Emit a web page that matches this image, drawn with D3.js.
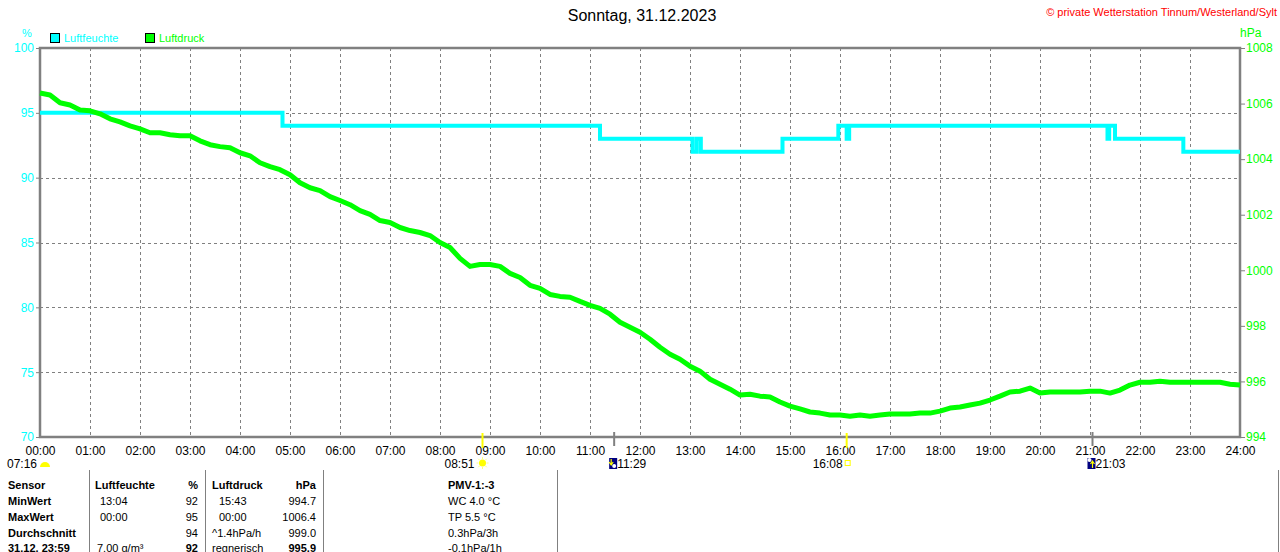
<!DOCTYPE html>
<html>
<head>
<meta charset="utf-8">
<script src="https://cdn.jsdelivr.net/npm/d3@7/dist/d3.min.js"></script>
<style>
  html, body { margin: 0; padding: 0; background: #fff; }
  svg { display: block; }
  text { font-family: "Liberation Sans", Arial, sans-serif; }
</style>
</head>
<body>
<svg id="chart" width="1280" height="552"></svg>
<script>
// ---------------- DATA ----------------
const title = "Sonntag, 31.12.2023";
const copyright = "© private Wetterstation Tinnum/Westerland/Sylt";
const seriesNames = ["Luftfeuchte", "Luftdruck"];
const seriesColors = ["#00FFFF", "#00FF00"];

const xTickLabels = ["00:00","01:00","02:00","03:00","04:00","05:00","06:00","07:00","08:00","09:00","10:00","11:00","12:00",
                     "13:00","14:00","15:00","16:00","17:00","18:00","19:00","20:00","21:00","22:00","23:00","24:00"];
const humTicks = [70, 75, 80, 85, 90, 95, 100];
const presTicks = [994, 996, 998, 1000, 1002, 1004, 1006, 1008];

// Luftfeuchte (%) – step changes (time, value)
const humTimes  = ["00:00","04:51","11:12","13:03","13:08","13:13","14:51","15:58","16:08","16:11","21:21","21:23","21:30","22:52","24:00"];
const humValues = [95, 94, 93, 92, 93, 92, 93, 94, 93, 94, 93, 94, 93, 92, 92];

// Luftdruck (hPa) – one reading every 12 minutes from 00:00 to 24:00
const presStepMin = 12;
const presValues = [
  1006.38,1006.31,1006.03,1005.95,1005.77,1005.74,1005.63,1005.45,1005.34,1005.20,
  1005.09,1004.95,1004.95,1004.88,1004.84,1004.84,1004.66,1004.52,1004.45,1004.41,
  1004.23,1004.12,1003.87,1003.73,1003.62,1003.44,1003.15,1002.97,1002.87,1002.65,
  1002.51,1002.36,1002.15,1002.01,1001.79,1001.72,1001.54,1001.43,1001.36,1001.25,
  1001.00,1000.82,1000.43,1000.14,1000.21,1000.21,1000.14,999.89,999.74,999.46,
  999.35,999.13,999.06,999.03,998.88,998.74,998.63,998.42,998.13,997.95,
  997.77,997.52,997.23,996.98,996.80,996.55,996.37,996.08,995.90,995.72,
  995.51,995.54,995.47,995.44,995.26,995.11,995.01,994.90,994.86,994.79,
  994.79,994.75,994.79,994.75,994.79,994.83,994.83,994.83,994.86,994.86,
  994.93,995.04,995.08,995.15,995.22,995.33,995.47,995.62,995.65,995.76,
  995.58,995.62,995.62,995.62,995.62,995.65,995.65,995.58,995.69,995.87,
  995.97,995.97,996.01,995.97,995.97,995.97,995.97,995.97,995.97,995.90,
  995.87
];

// Astronomical markers
const dawnLabel = "07:16";
const sunMarkers  = [{t:"08:51", kind:"sunrise"}, {t:"16:08", kind:"sunset"}];
const moonMarkers = [{t:"11:29", kind:"moonset"}, {t:"21:03", kind:"moonrise"}];

// Summary table
const tableHeader = ["Sensor", "Luftfeuchte", "%", "Luftdruck", "hPa", "PMV-1:-3"];
const tableRowLabels = ["MinWert", "MaxWert", "Durchschnitt", "31.12. 23:59"];
const humInfo  = ["13:04", "00:00", "", "7.00 g/m³"];
const humVals  = ["92", "95", "94", "92"];
const presInfo = ["15:43", "00:00", "^1.4hPa/h", "regnerisch"];
const presVals = ["994.7", "1006.4", "999.0", "995.9"];
const pmvInfo  = ["WC 4.0 °C", "TP 5.5 °C", "0.3hPa/3h", "-0.1hPa/1h"];

// ---------------- DRAW ----------------
const svg = d3.select("#chart");
const L = 40, R = 1240, T = 48, B = 437;
const gray = "#808080";
const toH = s => { const [h, m] = s.split(":").map(Number); return h + m / 60; };

const x = d3.scaleLinear().domain([0, 24]).range([L, R]);
const yH = d3.scaleLinear().domain([70, 100]).range([B, T]);
const yP = d3.scaleLinear().domain([994, 1008]).range([B, T]);

svg.append("rect").attr("width", 1280).attr("height", 552).attr("fill", "#fff");

// Grid
const grid = svg.append("g").attr("stroke", gray).attr("stroke-width", 1).attr("stroke-dasharray", "3,3");
grid.selectAll("line.v").data(d3.range(1, 24)).join("line")
  .attr("x1", d => Math.round(x(d)) + 0.5).attr("x2", d => Math.round(x(d)) + 0.5)
  .attr("y1", T).attr("y2", B);
grid.selectAll("line.h").data(humTicks.slice(1, -1)).join("line")
  .attr("x1", L).attr("x2", R)
  .attr("y1", d => Math.round(yH(d)) + 0.5).attr("y2", d => Math.round(yH(d)) + 0.5);

// Left axis
const axL = svg.append("g").attr("transform", `translate(${L},0)`)
  .call(d3.axisLeft(yH).tickValues(humTicks).tickFormat(d3.format("d")).tickSize(4).tickPadding(2).tickSizeOuter(0));
axL.select(".domain").remove();
axL.selectAll("line").attr("stroke", gray).attr("stroke-width", 1);
axL.selectAll("text").attr("fill", seriesColors[0]).attr("font-size", 12).attr("font-family", "Liberation Sans, Arial, sans-serif");

// Right axis
const axR = svg.append("g").attr("transform", `translate(${R},0)`)
  .call(d3.axisRight(yP).tickValues(presTicks).tickFormat(d3.format("d")).tickSize(5).tickPadding(1).tickSizeOuter(0));
axR.select(".domain").remove();
axR.selectAll("line").attr("stroke", gray).attr("stroke-width", 1);
axR.selectAll("text").attr("fill", seriesColors[1]).attr("font-size", 12).attr("font-family", "Liberation Sans, Arial, sans-serif");

// Bottom axis labels
const axB = svg.append("g").attr("transform", `translate(0,${B})`)
  .call(d3.axisBottom(x).tickValues(d3.range(0, 25)).tickFormat((d, i) => xTickLabels[i]).tickSize(0).tickPadding(9));
axB.select(".domain").remove();
axB.selectAll("text").attr("fill", "#000").attr("font-size", 12).attr("font-family", "Liberation Sans, Arial, sans-serif");

// Frame
svg.append("path")
  .attr("d", `M${L},${B} L${L},${T} L${R},${T} L${R},${B} Z`)
  .attr("fill", "none").attr("stroke", gray).attr("stroke-width", 2.5);

// Unit labels
svg.append("text").attr("x", 27).attr("y", 37).attr("text-anchor", "middle")
  .attr("fill", seriesColors[0]).attr("font-size", 11).text("%");
svg.append("text").attr("x", 1240).attr("y", 37)
  .attr("fill", seriesColors[1]).attr("font-size", 12).text("hPa");

// Title & copyright
svg.append("text").attr("x", 642).attr("y", 21).attr("text-anchor", "middle")
  .attr("fill", "#000").attr("font-size", 16).text(title);
svg.append("text").attr("x", 1277).attr("y", 16).attr("text-anchor", "end")
  .attr("fill", "#FF0000").attr("font-size", 11).text(copyright);

// Legend
const legX = [50, 145];
seriesNames.forEach((n, i) => {
  svg.append("rect").attr("x", legX[i] + 0.5).attr("y", 33.5).attr("width", 9).attr("height", 9)
    .attr("fill", seriesColors[i]).attr("stroke", "#000").attr("stroke-width", 1);
  svg.append("text").attr("x", legX[i] + 14).attr("y", 42)
    .attr("fill", seriesColors[i]).attr("font-size", 11).text(n);
});

// Humidity line (step)
const humData = humTimes.map((t, i) => ({ t: toH(t), v: humValues[i] }));
svg.append("path").datum(humData)
  .attr("d", d3.line().x(d => x(d.t)).y(d => yH(d.v)).curve(d3.curveStepAfter))
  .attr("fill", "none").attr("stroke", seriesColors[0]).attr("stroke-width", 4);

// Pressure line
const presData = presValues.map((v, i) => ({ t: i * presStepMin / 60, v }));
svg.append("path").datum(presData)
  .attr("d", d3.line().x(d => x(d.t)).y(d => yP(d.v)))
  .attr("fill", "none").attr("stroke", seriesColors[1]).attr("stroke-width", 5)
  .attr("stroke-linejoin", "round");

// Markers on time axis
const mk = svg.append("g");
sunMarkers.forEach(m => {
  mk.append("line").attr("x1", x(toH(m.t))).attr("x2", x(toH(m.t)))
    .attr("y1", 433).attr("y2", 448).attr("stroke", "#FFFF00").attr("stroke-width", 2);
});
moonMarkers.forEach(m => {
  mk.append("line").attr("x1", x(toH(m.t))).attr("x2", x(toH(m.t)))
    .attr("y1", 432).attr("y2", 446).attr("stroke", gray).attr("stroke-width", 2);
});

// dawn label at left edge
mk.append("text").attr("x", 37).attr("y", 468).attr("text-anchor", "end").attr("font-size", 12).text(dawnLabel);
mk.append("path").attr("d", "M40,467 A5,5 0 0 1 50,467 Z").attr("fill", "#FFFF00");

// sunrise
{
  const sx = x(toH(sunMarkers[0].t));
  mk.append("text").attr("x", sx - 8).attr("y", 468).attr("text-anchor", "end").attr("font-size", 12).text(sunMarkers[0].t);
  mk.append("circle").attr("cx", sx).attr("cy", 463).attr("r", 3.5).attr("fill", "#FFFF00");
  d3.range(8).forEach(k => {
    const a = k * Math.PI / 4;
    mk.append("line").attr("x1", sx + Math.cos(a) * 4).attr("y1", 463 + Math.sin(a) * 4)
      .attr("x2", sx + Math.cos(a) * 6).attr("y2", 463 + Math.sin(a) * 6)
      .attr("stroke", "#FFFF80").attr("stroke-width", 1);
  });
}
// sunset
{
  const sx = x(toH(sunMarkers[1].t));
  mk.append("text").attr("x", sx - 4).attr("y", 468).attr("text-anchor", "end").attr("font-size", 12).text(sunMarkers[1].t);
  mk.append("rect").attr("x", sx - 1.5).attr("y", 460.5).attr("width", 5).attr("height", 5)
    .attr("fill", "none").attr("stroke", "#FFFF00").attr("stroke-width", 1);
}
// moon set / rise
moonMarkers.forEach(m => {
  const mx = x(toH(m.t));
  mk.append("rect").attr("x", mx - 5).attr("y", 458).attr("width", 8).attr("height", 11).attr("fill", "#000080");
  mk.append("circle").attr("cx", m.kind === "moonset" ? mx : mx - 3).attr("cy", m.kind === "moonset" ? 466 : 460)
    .attr("r", 2).attr("fill", "#fff");
  if (m.kind === "moonset") {
    mk.append("path").attr("d", `M${mx - 3},459 L${mx - 3},464 M${mx - 5},462 L${mx - 3},465 L${mx - 1},462`)
      .attr("stroke", "#FFFF00").attr("stroke-width", 1.2).attr("fill", "none");
  } else {
    mk.append("path").attr("d", `M${mx},468 L${mx},462 M${mx - 2},464 L${mx},461 L${mx + 2},464`)
      .attr("stroke", "#FFFF00").attr("stroke-width", 1.2).attr("fill", "none");
  }
  mk.append("text").attr("x", mx + 3).attr("y", 468).attr("font-size", 12).text(m.t);
});

// Table
const tb = svg.append("g").attr("font-size", 11).attr("fill", "#000");
[89, 205, 323, 557, 1278].forEach(sx => {
  tb.append("line").attr("x1", sx + 0.5).attr("x2", sx + 0.5).attr("y1", 470).attr("y2", 552)
    .attr("stroke", gray).attr("stroke-width", 1);
});
const rowY = [489, 505, 521, 537, 552];
const hdr = tb.append("g").attr("font-weight", "bold");
hdr.append("text").attr("x", 8).attr("y", rowY[0]).text(tableHeader[0]);
hdr.append("text").attr("x", 95).attr("y", rowY[0]).text(tableHeader[1]);
hdr.append("text").attr("x", 198).attr("y", rowY[0]).attr("text-anchor", "end").text(tableHeader[2]);
hdr.append("text").attr("x", 212).attr("y", rowY[0]).text(tableHeader[3]);
hdr.append("text").attr("x", 316).attr("y", rowY[0]).attr("text-anchor", "end").text(tableHeader[4]);
hdr.append("text").attr("x", 448).attr("y", rowY[0]).text(tableHeader[5]);

tableRowLabels.forEach((lab, i) => {
  const y = rowY[i + 1];
  const last = i === tableRowLabels.length - 1;
  tb.append("text").attr("x", 8).attr("y", y).attr("font-weight", "bold").text(lab);
  tb.append("text").attr("x", last ? 97 : 100).attr("y", y).text(humInfo[i]);
  tb.append("text").attr("x", 198).attr("y", y).attr("text-anchor", "end")
    .attr("font-weight", last ? "bold" : "normal").text(humVals[i]);
  tb.append("text").attr("x", i < 2 ? 219 : 212).attr("y", y).text(presInfo[i]);
  tb.append("text").attr("x", 316).attr("y", y).attr("text-anchor", "end")
    .attr("font-weight", last ? "bold" : "normal").text(presVals[i]);
  tb.append("text").attr("x", 448).attr("y", y).text(pmvInfo[i]);
});
</script>
</body>
</html>
